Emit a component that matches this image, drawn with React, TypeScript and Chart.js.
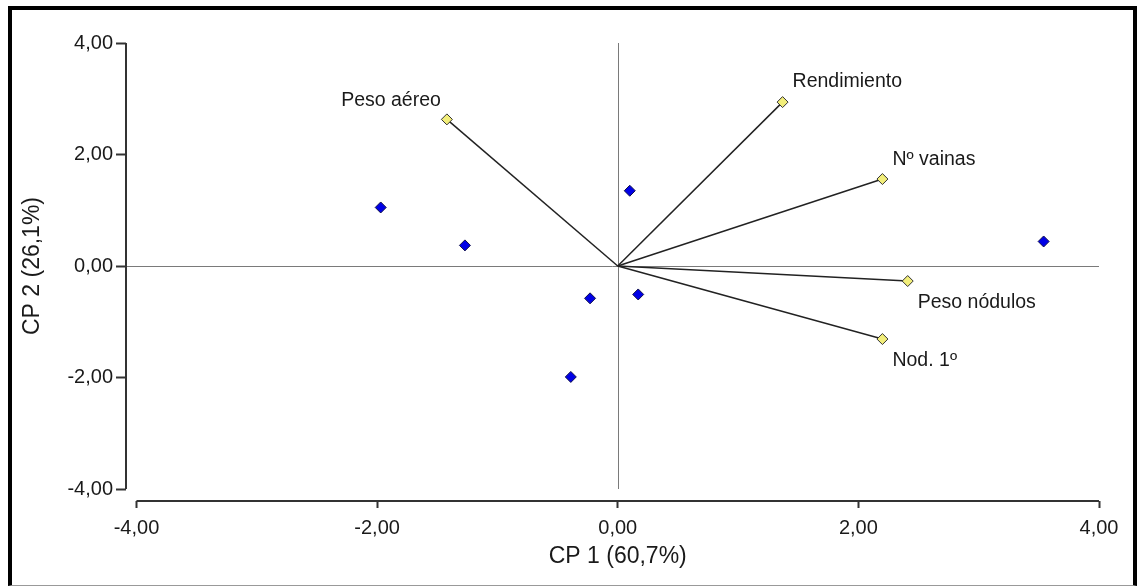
import React, { useEffect, useRef } from "react";
import { Chart, registerables } from "chart.js";

Chart.register(...registerables);

// Observations (blue diamonds)
const obsX = [-1.97, -1.27, 0.10, -0.23, 0.17, -0.39, 3.54];
const obsY = [1.05, 0.37, 1.35, -0.58, -0.51, -1.99, 0.44];

// Variables (vectors)
const varNames = ["Peso aéreo", "Rendimiento", "Nº vainas", "Peso nódulos", "Nod. 1º"];
const varX = [-1.42, 1.37, 2.20, 2.41, 2.20];
const varY = [2.63, 2.94, 1.56, -0.27, -1.31];

const xTicks = [-4, -2, 0, 2, 4];
const yTicks = [-4, -2, 0, 2, 4];
const xTitle = "CP 1 (60,7%)";
const yTitle = "CP 2 (26,1%)";

// label placement styles (pixel offsets from the vector tip)
const labelStyle = [
  { dx: -6, dy: -19, align: "right" },
  { dx: 10, dy: -20, align: "left" },
  { dx: 10, dy: -19, align: "left" },
  { dx: 10, dy: 22, align: "left" },
  { dx: 10, dy: 22, align: "left" },
];

const FONT = "Arial, 'Liberation Sans', sans-serif";
const fmt = (v: number) => Number(v).toFixed(2).replace(".", ",");

export default function App() {
  const ref = useRef<HTMLCanvasElement>(null);

  useEffect(() => {
    if (!ref.current) return;

    const decor = {
      id: "decor",
      beforeDatasetsDraw(chart: any) {
        const { ctx, scales } = chart;
        const xs = scales.x, ys = scales.y;
        const ca = chart.chartArea;
        ctx.save();
        // zero lines
        ctx.strokeStyle = "#7a7a7a";
        ctx.lineWidth = 1;
        ctx.beginPath();
        const y0 = Math.round(ys.getPixelForValue(0)) + 0.5;
        ctx.moveTo(ca.left, y0);
        ctx.lineTo(xs.getPixelForValue(4), y0);
        const x0 = Math.round(xs.getPixelForValue(0)) + 0.5;
        ctx.moveTo(x0, ys.getPixelForValue(4));
        ctx.lineTo(x0, ys.getPixelForValue(-4));
        ctx.stroke();
        // axis lines
        ctx.strokeStyle = "#333";
        ctx.lineWidth = 2;
        ctx.beginPath();
        ctx.moveTo(ca.left, ys.getPixelForValue(4));
        ctx.lineTo(ca.left, ys.getPixelForValue(-4));
        ctx.moveTo(xs.getPixelForValue(-4), ca.bottom);
        ctx.lineTo(xs.getPixelForValue(4), ca.bottom);
        ctx.stroke();
        ctx.restore();
      },
      afterDatasetsDraw(chart: any) {
        const { ctx, scales } = chart;
        const xs = scales.x, ys = scales.y;
        ctx.save();
        ctx.fillStyle = "#1a1a1a";
        ctx.font = `19.5px ${FONT}`;
        ctx.textBaseline = "middle";
        varNames.forEach((n, i) => {
          const s = labelStyle[i];
          ctx.textAlign = s.align;
          ctx.fillText(n, xs.getPixelForValue(varX[i]) + s.dx, ys.getPixelForValue(varY[i]) + s.dy);
        });
        ctx.font = `23px ${FONT}`;
        ctx.textAlign = "center";
        ctx.fillText(xTitle, xs.getPixelForValue(0), 557);
        ctx.translate(33, ys.getPixelForValue(0));
        ctx.rotate(-Math.PI / 2);
        ctx.fillText(yTitle, 0, 0);
        ctx.restore();
      },
    };

    const vectorSets = varNames.map((n, i) => ({
      type: "line" as const,
      label: n,
      data: [
        { x: 0, y: 0 },
        { x: varX[i], y: varY[i] },
      ],
      showLine: true,
      borderColor: "#222",
      borderWidth: 1.5,
      pointRadius: [0, 5.5],
      pointStyle: "rectRot",
      pointBackgroundColor: "#f2ee7a",
      pointBorderColor: "#333",
      pointBorderWidth: 1,
      order: 2,
    }));

    const chart = new Chart(ref.current, {
      type: "scatter",
      data: {
        datasets: [
          ...vectorSets,
          {
            label: "obs",
            data: obsX.map((x, i) => ({ x, y: obsY[i] })),
            pointStyle: "rectRot",
            pointRadius: 5.5,
            pointBackgroundColor: "#0000e6",
            pointBorderColor: "#10104a",
            pointBorderWidth: 1,
            order: 1,
          } as any,
        ],
      },
      options: {
        animation: false,
        responsive: false,
        devicePixelRatio: 1,
        layout: { padding: { top: 43, right: 40, left: 0, bottom: 0 } },
        plugins: { legend: { display: false }, tooltip: { enabled: false } },
        scales: {
          x: {
            type: "linear",
            min: -4.087,
            max: 4,
            afterBuildTicks: (s: any) => {
              s.ticks = xTicks.map((v) => ({ value: v }));
            },
            afterFit: (s: any) => {
              s.height = 85;
            },
            ticks: {
              callback: (v: any) => fmt(v),
              font: { size: 20, family: FONT },
              color: "#1a1a1a",
              padding: 8,
              maxRotation: 0,
              autoSkip: false,
            },
            grid: {
              drawOnChartArea: false,
              drawTicks: true,
              tickLength: 7,
              tickColor: "#333",
              tickWidth: 2,
            },
            border: { display: false },
          },
          y: {
            type: "linear",
            min: -4.215,
            max: 4,
            afterBuildTicks: (s: any) => {
              s.ticks = yTicks.map((v) => ({ value: v }));
            },
            afterFit: (s: any) => {
              s.width = 126;
            },
            ticks: {
              callback: (v: any) => fmt(v),
              font: { size: 20, family: FONT },
              color: "#1a1a1a",
              padding: 3,
              autoSkip: false,
            },
            grid: {
              drawOnChartArea: false,
              drawTicks: true,
              tickLength: 10,
              tickColor: "#333",
              tickWidth: 2,
            },
            border: { display: false },
          },
        },
      } as any,
      plugins: [decor],
    });
    return () => chart.destroy();
  }, []);

  return (
    <div style={{ position: "fixed", left: 0, top: 0, width: 1139, height: 586, background: "#fff" }}>
      <canvas ref={ref} width={1139} height={586} style={{ position: "absolute", left: 0, top: 0 }} />
      <div
        style={{
          position: "absolute",
          left: 8,
          top: 6,
          width: 1129,
          height: 580,
          boxSizing: "border-box",
          borderTop: "4px solid #000",
          borderLeft: "4px solid #000",
          borderRight: "4px solid #000",
          borderBottom: "1px solid #999",
          pointerEvents: "none",
        }}
      />
    </div>
  );
}
